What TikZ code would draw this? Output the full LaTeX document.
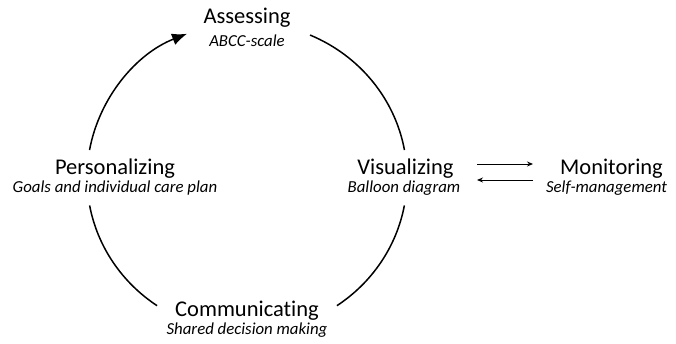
\documentclass[tikz,border=0pt]{standalone}
\usepackage{fontspec}
\setmainfont{Carlito}[Ligatures={NoCommon}]
\usetikzlibrary{arrows.meta,calc}
\tikzset{
  ttl/.style={anchor=base, inner sep=0pt, font=\fontsize{22.5}{26}\selectfont},
  sub/.style={anchor=base, inner sep=0pt, font=\fontsize{16.8}{19}\selectfont\itshape},
  arcline/.style={line width=1.5pt},
  smallarrow/.style={line width=0.9pt, -{Stealth[length=6pt,width=5pt]}}
}
\begin{document}
\begin{tikzpicture}[x=1pt,y=1pt]
\useasboundingbox (0,0) rectangle (676,344);
% texts
\node[ttl] (ass) at (247,320) {Assessing};
\node[sub] (asssub) at (247,297.3) {ABCC-scale};
\node[ttl] (per) at (115,169) {Personalizing};
\node[sub] (persub) at (115,151.3) {Goals and individual care plan};
\node[ttl] (vis) at (405.5,169) {Visualizing};
\node[sub] (vissub) at (404,151.3) {Balloon diagram};
\node[ttl] (mon) at (611.5,169) {Monitoring};
\node[sub] (monsub) at (606.5,151.3) {Self-management};
\node[ttl] (com) at (247,27.3) {Communicating};
\node[sub] (comsub) at (247,9) {Shared decision making};
% cycle
\coordinate (c) at (247,166.5);
\draw[arcline,-{Latex[length=15pt,width=12pt]}] ($(c)+(169.8:160 and 155)$) arc[start angle=169.8, end angle=112.0, x radius=160, y radius=155];
\draw[arcline] ($(c)+(66.8:160 and 155)$) arc[start angle=66.8, end angle=10.2, x radius=160, y radius=155];
\draw[arcline] ($(c)+(-10.4:160 and 155)$) arc[start angle=-10.4, end angle=-55.8, x radius=160, y radius=155];
\draw[arcline] ($(c)+(-124.2:160 and 155)$) arc[start angle=-124.2, end angle=-169.6, x radius=160, y radius=155];
% exchange arrows
\coordinate (vm1) at (477,180);
\coordinate (vm2) at (533,180);
\coordinate (mv1) at (533,164);
\coordinate (mv2) at (477,164);
\draw[smallarrow] (vm1) -- (vm2);
\draw[smallarrow] (mv1) -- (mv2);
\end{tikzpicture}
\end{document}
